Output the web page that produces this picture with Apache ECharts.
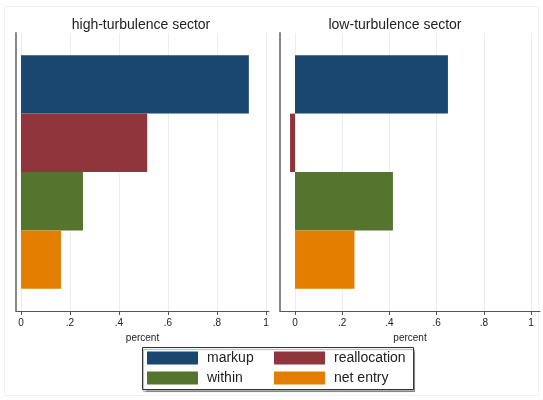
<!DOCTYPE html>
<html>
<head>
<meta charset="utf-8">
<script src="https://cdn.jsdelivr.net/npm/echarts@6/dist/echarts.min.js"></script>
<style>
  html, body { margin: 0; padding: 0; background: #fff; }
  #chart { width: 543px; height: 400px; }
</style>
</head>
<body>
<div id="chart"></div>
<script>
// Decomposition components, one bar each per sector panel
const components = ['markup', 'reallocation', 'within', 'net entry'];
const panelTitles = ['high-turbulence sector', 'low-turbulence sector'];
const highTurbulence = [0.93, 0.515, 0.253, 0.163];
const lowTurbulence = [0.648, -0.021, 0.415, 0.252];
const tickValues = [0, 0.2, 0.4, 0.6, 0.8, 1];
const colors = ['#1a476f', '#90353b', '#55752f', '#e37e00'];

const FONT = '"Liberation Sans", Arial, sans-serif';

// Stata-style tick labels: 0, .2, .4, ... 1
function tickFmt(v) {
  if (v === 0) return '0';
  if (v === 1) return '1';
  return String(Math.round(v * 10) / 10).replace(/^0/, '');
}

function xAxisFor(idx, min, max) {
  return {
    type: 'value', gridIndex: idx, min: min, max: max,
    name: 'percent', nameLocation: 'middle', nameGap: 16,
    nameTextStyle: { fontFamily: FONT, fontSize: 10, color: '#222' },
    axisLine: { show: true, onZero: false, lineStyle: { color: '#555', width: 1 } },
    axisTick: { show: true, length: 4, customValues: tickValues, lineStyle: { color: '#555' } },
    axisLabel: { customValues: tickValues, formatter: tickFmt, margin: 7,
                 fontFamily: FONT, fontSize: 10, color: '#222' },
    splitLine: { show: true, customValues: tickValues, lineStyle: { color: '#e6eef2', width: 1 } }
  };
}

function yAxisFor(idx) {
  return {
    type: 'category', gridIndex: idx, data: ['all'], inverse: true,
    axisLine: { show: true, onZero: false, lineStyle: { color: '#888', width: 2 } },
    axisTick: { show: false }, axisLabel: { show: false }, splitLine: { show: false }
  };
}

function panelSeries(idx, values) {
  return components.map((name, i) => ({
    name: name, type: 'bar', xAxisIndex: idx, yAxisIndex: idx,
    data: [values[i]], barGap: '0%', barCategoryGap: '16%',
    itemStyle: { color: colors[i] }, emphasis: { disabled: true }
  }));
}

// Legend laid out as two columns inside one framed box
function legendColumn(names, left) {
  return {
    data: names, left: left, top: 347, orient: 'vertical',
    icon: 'rect', itemWidth: 51, itemHeight: 13, itemGap: 6,
    padding: [4, 0, 4, 5], selectedMode: false,
    textStyle: { fontFamily: FONT, fontSize: 14, color: '#222', lineHeight: 14,
                 padding: [0, 0, 0, 4] }
  };
}

const chart = echarts.init(document.getElementById('chart'), null, { renderer: 'canvas' });
chart.setOption({
  animation: false,
  backgroundColor: '#fff',
  textStyle: { fontFamily: FONT },
  title: [
    { text: panelTitles[0], left: 141, top: 18, textAlign: 'center', padding: 0,
      textStyle: { fontFamily: FONT, fontSize: 14, fontWeight: 'normal', color: '#222' } },
    { text: panelTitles[1], left: 395, top: 18, textAlign: 'center', padding: 0,
      textStyle: { fontFamily: FONT, fontSize: 14, fontWeight: 'normal', color: '#222' } }
  ],
  grid: [
    { left: 16, top: 33, width: 253, height: 278 },
    { left: 280, top: 33, width: 260, height: 278 }
  ],
  xAxis: [xAxisFor(0, -0.0204, 1.0122), xAxisFor(1, -0.0636, 1.0381)],
  yAxis: [yAxisFor(0), yAxisFor(1)],
  legend: [
    legendColumn([components[0], components[2]], 142),
    legendColumn([components[1], components[3]], 269)
  ],
  graphic: [
    { type: 'rect', silent: true, z: -1,
      shape: { x: 4.5, y: 6.5, width: 534, height: 389 },
      style: { fill: null, stroke: '#f0f1f3', lineWidth: 1 } },
    { type: 'rect', silent: true, z: 0,
      shape: { x: 142.5, y: 347.5, width: 271, height: 42 },
      style: { fill: '#fff', stroke: '#333', lineWidth: 1,
               shadowColor: 'rgba(0,0,0,0.3)', shadowOffsetX: 1, shadowOffsetY: 2, shadowBlur: 1 } }
  ],
  series: [...panelSeries(0, highTurbulence), ...panelSeries(1, lowTurbulence)]
});
</script>
</body>
</html>
